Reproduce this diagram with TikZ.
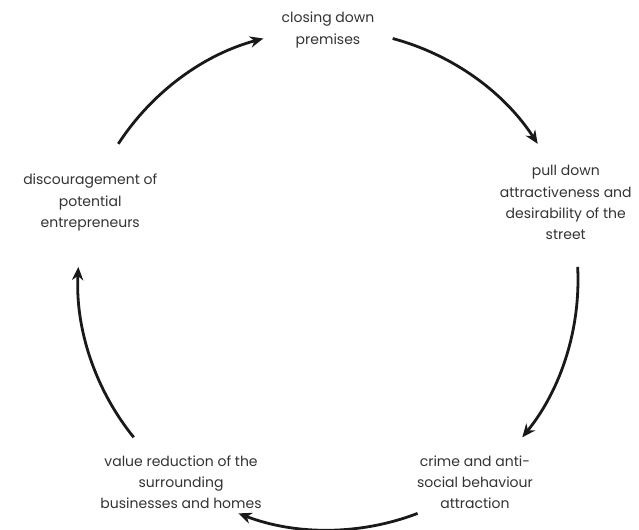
\documentclass[tikz,border=0pt]{standalone}
\usepackage{fontspec}
\setmainfont{Poppins}
\usetikzlibrary{positioning,arrows.meta}

\definecolor{txtgray}{HTML}{333333}
\tikzset{
  stage/.style={align=center, text=txtgray, inner sep=2pt, font=\fontsize{10.5}{16}\selectfont},
  cyc/.style={-{Stealth[length=10pt,width=8.5pt]}, line width=2.1pt, black!90, looseness=0.88}
}

\begin{document}
\begin{tikzpicture}[x=0.75pt,y=0.75pt]
  \useasboundingbox (-328,-250) rectangle (311,280);
  % \draw[gray!30] (0,0) circle (250);

  \node[stage] at (90:250)   (n_1) {closing down\\premises};
  \node[stage] at (18:250)   (n_2) {pull down\\attractiveness and\\desirability of the\\street};
  \node[stage] at (-54:250)  (n_3) {crime and anti-\\social behaviour\\attraction};
  \node[stage] at (-126:250) (n_4) {value reduction of the\\surrounding\\businesses and homes};
  \node[stage] at (162:250)  (n_5) {discouragement of\\potential\\entrepreneurs};

  % arrow ends on the same circle, 15 degrees off each stage
  \foreach \k/\a in {1/90, 2/18, 3/-54, 4/-126, 5/162}{
    \coordinate (o_\k) at ({\a-15}:250);
    \coordinate (i_\k) at ({\a+15}:250);
  }

  \draw [cyc] (o_1) to[bend left=21] (i_2);
  \draw [cyc] (o_2) to[bend left=21] (i_3);
  \draw [cyc] (o_3) to[bend left=21] (i_4);
  \draw [cyc] (o_4) to[bend left=21] (i_5);
  \draw [cyc] (o_5) to[bend left=21] (i_1);

\end{tikzpicture}
\end{document}
